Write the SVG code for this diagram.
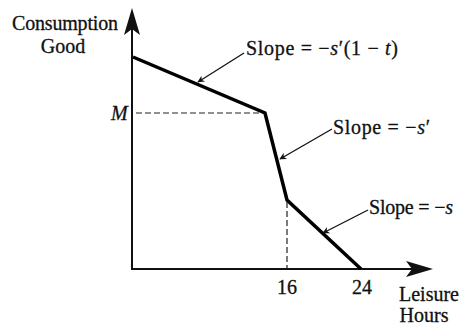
<svg xmlns="http://www.w3.org/2000/svg" width="464" height="329" viewBox="0 0 464 329">
<style>
text{font-family:"Liberation Serif","Times New Roman",serif;font-size:20px;fill:#111;stroke:#111;stroke-width:0.3}
.it{font-style:italic}
.axis{stroke:#111;stroke-width:2;fill:none}
.budget{stroke:#000;stroke-width:3.5;fill:none;stroke-linejoin:miter}
.dash{stroke:#222;stroke-width:1.2;stroke-dasharray:6,3;fill:none}
.lead{stroke:#111;stroke-width:1.3;fill:none}
</style>
<defs>
<marker id="ah" viewBox="0 0 10 10" refX="9" refY="5" markerWidth="10" markerHeight="7" markerUnits="userSpaceOnUse" orient="auto">
<path d="M0,0 L10,5 L0,10 L3,5 Z" fill="#111"/>
</marker>
</defs>
<g id="connectors">
<line class="axis" x1="132" y1="270" x2="132" y2="20"/>
<path d="M132,8 L140,35 L132,29 L124,35 Z" fill="#111"/>
<line class="axis" x1="131" y1="269" x2="420" y2="269"/>
<path d="M433,269 L406,261 L412,269 L406,277 Z" fill="#111"/>
<line class="dash" x1="136" y1="113" x2="265" y2="113"/>
<line class="dash" x1="287" y1="202" x2="287" y2="268"/>
<polyline class="budget" points="133,57 265,113 287,200 361,269"/>
<line class="lead" x1="244" y1="53" x2="198" y2="82" marker-end="url(#ah)"/>
<line class="lead" x1="332" y1="129" x2="280" y2="159" marker-end="url(#ah)"/>
<line class="lead" x1="368" y1="210" x2="323" y2="233" marker-end="url(#ah)"/>
</g>
<g id="y-label"><text x="65" y="30" text-anchor="middle" textLength="106">Consumption</text><text x="63" y="53" text-anchor="middle">Good</text></g>
<g id="x-label"><text x="429" y="301" text-anchor="middle">Leisure</text><text x="424" y="322" text-anchor="middle">Hours</text></g>
<g id="m-label"><text class="it" x="111" y="120">M</text></g>
<g id="tick16"><text x="287" y="294" text-anchor="middle">16</text></g>
<g id="tick24"><text x="362" y="294" text-anchor="middle">24</text></g>
<g id="slope1"><text x="246" y="55" textLength="152">Slope = −<tspan class="it">s</tspan>′(1 − <tspan class="it">t</tspan>)</text></g>
<g id="slope2"><text x="333" y="134" textLength="97">Slope = −<tspan class="it">s</tspan>′</text></g>
<g id="slope3"><text x="369" y="214" textLength="84">Slope = −<tspan class="it">s</tspan></text></g>
</svg>
